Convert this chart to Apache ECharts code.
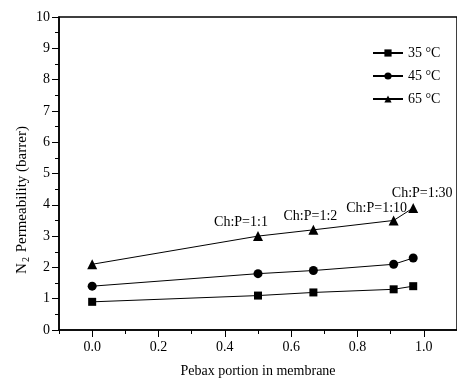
<!DOCTYPE html>
<html>
<head>
<meta charset="utf-8">
<script src="https://cdn.jsdelivr.net/npm/echarts@6/dist/echarts.min.js"></script>
<style>
  html, body { margin: 0; padding: 0; background: #fff; }
  #chart { width: 457px; height: 383px; }
</style>
</head>
<body>
<div id="chart"></div>
<script>
// Pebax weight fraction of each membrane (Ch:P = 0, 1:1, 1:2, 1:10, 1:30)
const pebaxPortion = [0, 0.5, 0.667, 0.909, 0.968];
const ratioLabels = ['', 'Ch:P=1:1', 'Ch:P=1:2', 'Ch:P=1:10', 'Ch:P=1:30'];

// N2 permeability (barrer) at each temperature
const perm35 = [0.9, 1.1, 1.2, 1.3, 1.4];
const perm45 = [1.4, 1.8, 1.9, 2.1, 2.3];
const perm65 = [2.1, 3.0, 3.2, 3.5, 3.9];

const seriesNames = ['35 °C', '45 °C', '65 °C'];
const xMajorTicks = [0, 0.2, 0.4, 0.6, 0.8, 1.0];
const xMinorTicks = [-0.1, 0.1, 0.3, 0.5, 0.7, 0.9, 1.1];

const FONT = "'Liberation Serif', 'Times New Roman', serif";
const labelOffsets = [[0, 0], [-17, 0], [-3, 0], [-17, 2], [9, -1]];

function pairs(ys) {
  return pebaxPortion.map((x, i) => [x, ys[i]]);
}

const chart = echarts.init(document.getElementById('chart'), null, { renderer: 'canvas' });

const commonSeries = {
  type: 'line',
  xAxisIndex: 0,
  color: '#000',
  lineStyle: { color: '#000', width: 1 },
  itemStyle: { color: '#000' },
  emphasis: { disabled: true },
  animation: false
};

chart.setOption({
  animation: false,
  grid: {
    left: 59, top: 17, right: -7, bottom: 49,
    show: true, borderColor: '#000', borderWidth: 1.5, backgroundColor: 'transparent'
  },
  legend: {
    orient: 'vertical',
    left: 372, top: 46, padding: 0,
    itemWidth: 30, itemHeight: 9, itemGap: 9,
    textStyle: { fontFamily: FONT, fontSize: 14, color: '#000' },
    data: seriesNames
  },
  xAxis: [{
    type: 'value', min: -0.1, max: 1.1,
    name: 'Pebax portion in membrane',
    nameLocation: 'middle', nameGap: 34,
    nameTextStyle: { fontFamily: FONT, fontSize: 14, color: '#000' },
    axisLine: { onZero: false, lineStyle: { color: '#000', width: 1.5 } },
    axisTick: { show: true, customValues: xMajorTicks, length: 7, lineStyle: { color: '#000', width: 1 } },
    axisLabel: {
      customValues: xMajorTicks, margin: 10,
      formatter: v => v.toFixed(1),
      fontFamily: FONT, fontSize: 14, color: '#000'
    },
    splitLine: { show: false }
  }, {
    type: 'value', min: -0.1, max: 1.1, position: 'bottom', gridIndex: 0,
    axisLine: { show: false, onZero: false },
    axisTick: { show: true, customValues: xMinorTicks, length: 4, lineStyle: { color: '#000', width: 1 } },
    axisLabel: { show: false },
    splitLine: { show: false }
  }],
  yAxis: {
    type: 'value', min: 0, max: 10, interval: 1,
    axisLine: { show: true, onZero: false, lineStyle: { color: '#000', width: 1.5 } },
    axisTick: { show: true, length: 7, lineStyle: { color: '#000', width: 1 } },
    minorTick: { show: true, splitNumber: 2, length: 4, lineStyle: { color: '#000', width: 1 } },
    axisLabel: { margin: 9, fontFamily: FONT, fontSize: 14, color: '#000' },
    splitLine: { show: false }
  },
  graphic: [{
    type: 'text',
    x: 22, y: 200,
    rotation: Math.PI / 2,
    style: {
      text: 'N{s|2} Permeability (barrer)',
      fontFamily: FONT, fontSize: 15, fill: '#000',
      align: 'center', verticalAlign: 'middle',
      rich: { s: { fontFamily: FONT, fontSize: 10, fill: '#000', padding: [9, 1, 0, 1] } }
    }
  }],
  series: [
    Object.assign({}, commonSeries, {
      name: seriesNames[0], symbol: 'rect', symbolSize: 8, data: pairs(perm35)
    }),
    Object.assign({}, commonSeries, {
      name: seriesNames[1], symbol: 'circle', symbolSize: 9, data: pairs(perm45)
    }),
    Object.assign({}, commonSeries, {
      name: seriesNames[2], symbol: 'triangle', symbolSize: 10,
      data: pairs(perm65).map((p, i) => ({
        value: p,
        label: ratioLabels[i] ? {
          show: true, position: 'top', distance: 2,
          offset: labelOffsets[i],
          formatter: ratioLabels[i],
          fontFamily: FONT, fontSize: 14, color: '#000'
        } : { show: false }
      }))
    })
  ]
});
</script>
</body>
</html>
